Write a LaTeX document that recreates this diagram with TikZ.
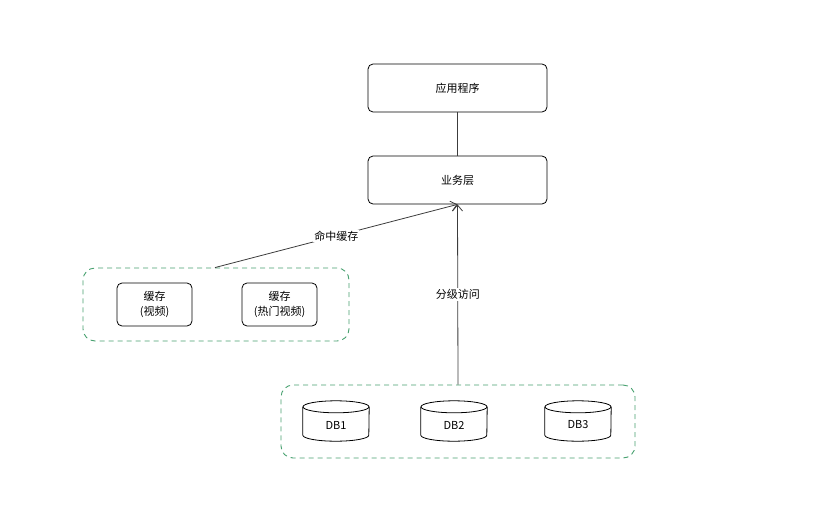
\documentclass[tikz,border=0pt]{standalone}
\usepackage{fontspec}
\setmainfont{Noto Sans CJK SC}
\usetikzlibrary{arrows.meta,calc}
\definecolor{edge}{RGB}{60,60,60}
\definecolor{grp}{RGB}{70,160,110}
\tikzset{
  box/.style={draw=black, rounded corners=5pt, line width=0.8pt, align=center, font=\fontsize{11}{15}\selectfont},
  group/.style={draw=grp, dashed, dash pattern=on 5pt off 4pt, rounded corners=12pt, line width=0.9pt},
  conn/.style={draw=edge, line width=0.8pt},
  arr/.style={conn, -{Straight Barb[length=6pt,width=10pt]}},
  lbl/.style={fill=white, inner sep=1pt, font=\fontsize{11}{14}\selectfont},
  dbarea/.style={minimum width=66pt, minimum height=40pt, inner sep=0pt}
}
\begin{document}
\begin{tikzpicture}[x=1pt,y=-1pt]
\useasboundingbox (0,0) rectangle (834,527);
% main boxes
\node[box, minimum width=179pt, minimum height=48pt] (app) at (457.5,88) {应用程序};
\node[box, minimum width=179pt, minimum height=48pt] (biz) at (457.5,180) {业务层};
\draw[conn] (app.south) -- (biz.north);
% cache group
\node[group, minimum width=266pt, minimum height=73pt] (cache) at (216,304.5) {};
\node[box, minimum width=75pt, minimum height=43pt, inner sep=1pt] (c1) at (154.5,304.5) {缓存\\(视频)};
\node[box, minimum width=75pt, minimum height=43pt, inner sep=1pt] (c2) at (279.5,304.5) {缓存\\(热门视频)};
% db group
\node[group, minimum width=354pt, minimum height=73pt] (dbg) at (458,421.5) {};
\foreach \n/\x/\t in {db1/336/DB1, db2/454/DB2, db3/578/DB3}{
  \node[dbarea] (\n) at (\x,421) {};
  \draw[line width=0.8pt] ($(\n.north west)+(0,6)$) -- ($(\n.south west)+(0,-6)$)
     arc[start angle=180, end angle=360, x radius=33pt, y radius=6pt]
     -- ($(\n.north east)+(0,6)$);
  \draw[line width=0.8pt] ($(\n.north)+(0,6)$) ellipse[x radius=33pt, y radius=6pt];
  \node[font=\fontsize{11}{14}\selectfont] at ($(\n.center)+(0,4)$) {\t};
}
% connectors
\coordinate (cs) at ($(cache.north)+(-1,0)$);
\draw[arr] (cs) -- (biz.south) node[lbl, pos=0.5] {命中缓存};
\draw[arr] (dbg.north) -- (biz.south) node[lbl, pos=0.5] {分级访问};
\end{tikzpicture}
\end{document}
